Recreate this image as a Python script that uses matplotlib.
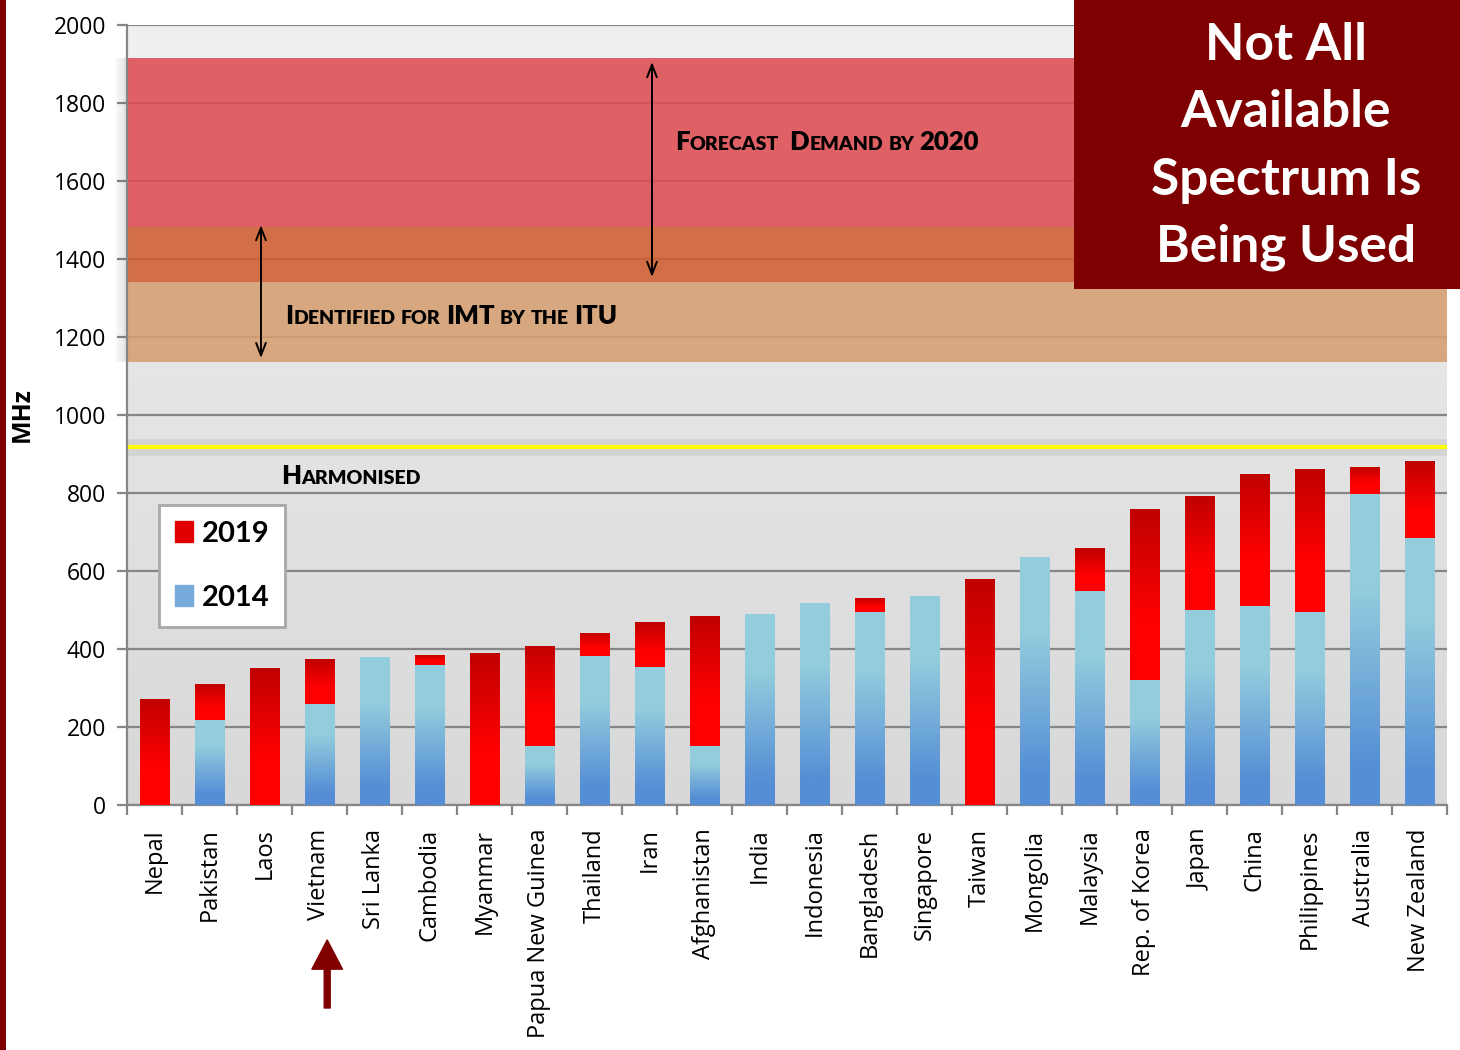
import numpy as np
import matplotlib
matplotlib.use('Agg')
import matplotlib.pyplot as plt
from matplotlib.colors import LinearSegmentedColormap
from matplotlib.patches import Rectangle, Patch
from matplotlib.transforms import IdentityTransform

# ---- data ----
countries = ['Nepal', 'Pakistan', 'Laos', 'Vietnam', 'Sri Lanka', 'Cambodia',
             'Myanmar', 'Papua New Guinea', 'Thailand', 'Iran', 'Afghanistan',
             'India', 'Indonesia', 'Bangladesh', 'Singapore', 'Taiwan',
             'Mongolia', 'Malaysia', 'Rep. of Korea', 'Japan', 'China',
             'Philippines', 'Australia', 'New Zealand']
mhz_2014 = [0, 218, 0, 259, 379, 359, 0, 151, 382, 354, 151, 490, 518, 495,
            536, 0, 636, 549, 321, 500, 510, 495, 797, 685]
mhz_2019 = [272, 310, 351, 374, 379, 385, 390, 408, 441, 469, 485, 490, 518,
            531, 536, 579, 636, 659, 759, 792, 849, 862, 867, 882]
forecast_band = (1341, 1915)     # forecast demand by 2020
itu_band = (1136, 1482)          # identified for IMT by the ITU
harmonised = 918
highlight = 'Vietnam'
box_lines = ['Not All', 'Available', 'Spectrum Is', 'Being Used']

DARK = '#7F0000'
red_cmap = LinearSegmentedColormap.from_list(
    'r', [(0, '#C00000'), (0.65, '#FF0000'), (1, '#FF0000')])
blue_cmap = LinearSegmentedColormap.from_list(
    'b', [(0, '#93CDDD'), (0.3, '#93CDDD'), (0.88, '#558ED5'), (1, '#558ED5')])

fig = plt.figure(figsize=(14.6, 10.5), dpi=100)
ax = fig.add_axes([127/1460, 1-805/1050, 1320/1460, 780/1050])
x = np.arange(len(countries))
ax.set_xlim(-0.5, len(countries)-0.5)
ax.set_ylim(0, 2000)

# background gradient
bg = np.linspace(0, 1, 256).reshape(-1, 1)
bg_cmap = LinearSegmentedColormap.from_list('bg', ['#F0F0F0', '#D8D8D8'])
ax.imshow(bg, cmap=bg_cmap, extent=(0, 1, 0, 1), transform=ax.transAxes,
          aspect='auto', zorder=0)

ax.set_axisbelow(True)
ax.yaxis.grid(True, color='#868686', lw=1.6)
ax.set_yticks(range(0, 2001, 200))

# spectrum bands (split into forecast-only, overlap, itu-only)
ax.axhspan(itu_band[1], forecast_band[1], color='#DE4D52', alpha=0.88, lw=0, zorder=1)
ax.axhspan(forecast_band[0], itu_band[1], color='#CF5E31', alpha=0.88, lw=0, zorder=1)
ax.axhspan(itu_band[0], forecast_band[0], color='#D59F71', alpha=0.88, lw=0, zorder=1)
# faint shadow left of bands
for i, a in enumerate([0.05, 0.08, 0.11, 0.14]):
    ax.add_patch(Rectangle((-0.5 - (4 - i) * 0.05, itu_band[0]), 0.05,
                           forecast_band[1] - itu_band[0], color='#404040',
                           alpha=a, lw=0, clip_on=False, zorder=1))

# harmonised line
ax.axhline(harmonised, color='#909090', lw=12, alpha=0.18, zorder=1.5)
ax.axhline(harmonised, color='#FFFF00', lw=3, zorder=1.6)

# stacked bars with gradients
w = 0.53
top_part = [b - a for a, b in zip(mhz_2014, mhz_2019)]
bars14 = ax.bar(x, mhz_2014, w, color='none', lw=0, zorder=2)
bars19 = ax.bar(x, top_part, w, bottom=mhz_2014, color='none', lw=0, zorder=2)
grad = np.linspace(0, 1, 256).reshape(-1, 1)
for bars, cmap in ((bars14, blue_cmap), (bars19, red_cmap)):
    for p in bars:
        if p.get_height() <= 0:
            continue
        x0, y0 = p.get_x(), p.get_y()
        im = ax.imshow(grad, cmap=cmap, aspect='auto', zorder=3,
                       extent=(x0, x0 + p.get_width(), y0, y0 + p.get_height()))
        im.set_clip_path(p)
ax.set_xlim(-0.5, len(countries)-0.5)
ax.set_ylim(0, 2000)

# axes styling
for s in ('top', 'right'):
    ax.spines[s].set_visible(False)
for s in ('left', 'bottom'):
    ax.spines[s].set_color('#868686')
    ax.spines[s].set_linewidth(1.6)
ax.set_xticks(x)
ax.set_xticklabels(countries, rotation=90, fontfamily='Open Sans', fontsize=17)
ax.set_xticks(np.arange(-0.5, len(countries), 1), minor=True)
ax.tick_params(axis='x', which='major', length=0, pad=17)
ax.tick_params(axis='x', which='minor', length=7, width=1.6, color='#868686')
ax.tick_params(axis='y', length=7, width=1.6, color='#868686', pad=8)
for t in ax.get_yticklabels():
    t.set_fontfamily('Open Sans')
    t.set_fontsize(16.5)
fig.text(22/1460, 1-415/1050, 'MHz', rotation=90, ha='center', va='center',
         fontfamily='Open Sans', fontweight='bold', fontsize=18)

# legend
leg = ax.legend(handles=[Patch(color='#E00000', label='2019'),
                         Patch(color='#78A9DB', label='2014')],
                loc='upper left', bbox_to_anchor=(0.024, 0.385), borderaxespad=0,
                prop=dict(family='Lato', weight='bold', size=21),
                handlelength=0.62, handleheight=0.7, handletextpad=0.3,
                labelspacing=1.3, borderpad=0.55, fancybox=False, framealpha=1)
leg.get_frame().set_edgecolor('#A8A8A8')
leg.get_frame().set_linewidth(2)
leg.set_zorder(5)


def small_caps(xd, yd, phrase, big=18.5, small=14):
    fig.canvas.draw()
    r = fig.canvas.get_renderer()
    xp, yp = ax.transData.transform((xd, yd))
    runs = []
    for ch in phrase:
        kind = 's' if ch == ' ' else ('b' if (ch.isupper() or ch.isdigit()) else 'l')
        if runs and runs[-1][0] == kind:
            runs[-1][1] += ch
        else:
            runs.append([kind, ch])
    for kind, txt in runs:
        if kind == 's':
            xp += 5 * len(txt)
            continue
        t = ax.text(xp, yp, txt.upper(), transform=IdentityTransform(),
                    va='baseline', ha='left', fontfamily='Lato', fontweight='heavy',
                    fontsize=big if kind == 'b' else small, color='black', zorder=6)
        xp = t.get_window_extent(r).x1 + 0.3


def px2data(px, py):
    return ((px - 127) / 55 - 0.5, (805 - py) / 0.39)


small_caps(*px2data(675, 150), 'Forecast  Demand by 2020')
small_caps(*px2data(285, 324), 'Identified for IMT by the ITU')
small_caps(*px2data(281, 484), 'Harmonised')

# double-headed arrows
ax.annotate('', xy=(9.045, forecast_band[1] - 10), xytext=(9.045, forecast_band[0] + 13),
            arrowprops=dict(arrowstyle='<->,head_length=0.9,head_width=0.35', lw=1.4,
                            color='black', shrinkA=0, shrinkB=0), zorder=6)
ax.annotate('', xy=(1.936, itu_band[1] + 5), xytext=(1.936, itu_band[0] + 10),
            arrowprops=dict(arrowstyle='<->,head_length=0.9,head_width=0.35', lw=1.4,
                            color='black', shrinkA=0, shrinkB=0), zorder=6)

# arrow pointing at highlighted country
hx = countries.index(highlight)
ax.annotate('', xy=(hx + 0.14, 1050 - 940), xytext=(hx + 0.14, 1050 - 1008),
            xycoords=('data', 'figure pixels'), textcoords=('data', 'figure pixels'),
            arrowprops=dict(width=4.3, headwidth=22, headlength=21, color='#800000',
                            shrink=0), annotation_clip=False)

# title box and left strip
fig.patches.append(Rectangle((1074, 761), 386, 289, transform=None,
                             facecolor=DARK, edgecolor='none', zorder=10))
fig.patches.append(Rectangle((0, 0), 6, 1050, transform=None,
                             facecolor=DARK, edgecolor='none', zorder=10))
for i, line in enumerate(box_lines):
    fig.text(1286/1460, 1 - (60 + 67.3 * i) / 1050, line, ha='center', va='baseline',
             color='white', fontfamily='Lato', fontweight='bold', fontsize=37, zorder=11)

fig.savefig('out.png', dpi=100, facecolor='white')
